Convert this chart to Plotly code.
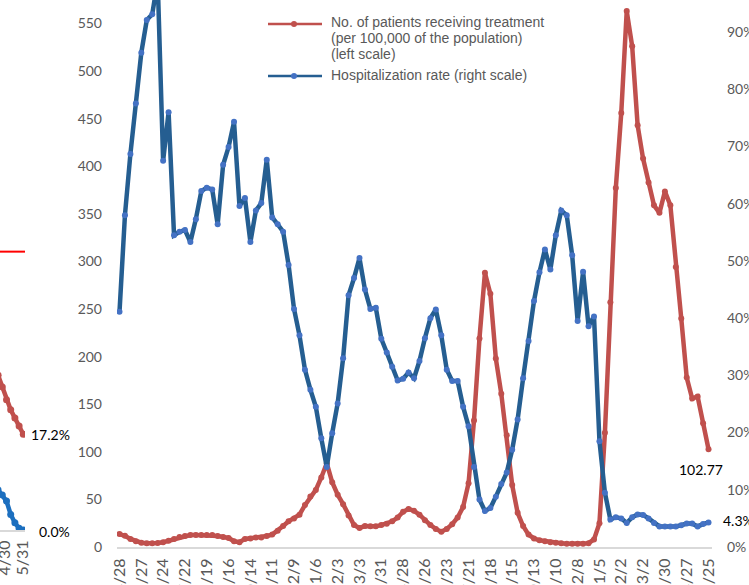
import plotly.graph_objects as go
import pandas as pd

W, H = 749, 585
PLOT_BOTTOM = 547  # pixel row of the main x axis (margin b = H - PLOT_BOTTOM)

# ---- main chart data (weekly, from 2020-04-29) ----
patients = [  # No. of patients receiving treatment per 100,000 (left scale)
    13.6, 11.8, 8.5, 6.0, 4.5, 4.0, 3.9, 4.2, 5.0, 6.5,
    8.5, 10.5, 11.5, 12.5, 12.6, 12.6, 12.6, 12.6, 11.5, 10.5,
    9.5, 6.0, 5.0, 8.5, 9.0, 10.0, 10.0, 11.5, 13.0, 17.0,
    22.0, 27.0, 30.0, 34.0, 44.0, 53.0, 60.0, 73.0, 88.0, 68.0,
    55.0, 45.0, 33.0, 23.0, 20.0, 22.0, 21.7, 21.7, 23.0, 24.5,
    27.0, 31.0, 37.0, 40.0, 38.0, 34.0, 28.0, 23.0, 19.0, 16.0,
    19.0, 24.0, 31.0, 42.0, 67.0, 133.0, 219.0, 288.0, 266.0, 198.0,
    161.0, 117.5, 65.0, 36.0, 22.0, 13.0, 9.0, 7.0, 6.0, 5.0,
    4.5, 4.0, 3.5, 3.5, 3.5, 3.5, 4.0, 8.0, 25.0, 120.0,
    257.0, 377.0, 456.0, 563.0, 526.0, 443.0, 408.0, 383.0, 359.0, 351.0,
    373.5, 359.0, 294.0, 240.0, 178.0, 156.0, 158.0, 130.0, 102.77,
]
hosp_rate = [  # Hospitalization rate, % (right scale)
    41.1, 58.0, 68.7, 77.5, 86.4, 92.1, 93.1, 99.0, 67.5, 76.0,
    54.5, 55.1, 55.4, 53.3, 57.3, 62.2, 62.8, 62.5, 56.4, 66.8,
    69.9, 74.3, 59.6, 61.0, 53.3, 58.8, 60.1, 67.7, 57.6, 56.4,
    55.1, 49.3, 41.6, 37.0, 31.0, 27.5, 24.5, 19.0, 14.0, 19.9,
    25.1, 33.0, 44.0, 47.0, 50.5, 45.0, 41.6, 41.8, 36.4, 34.0,
    31.5, 29.1, 29.4, 30.5, 29.5, 32.5, 36.5, 40.0, 41.5, 37.0,
    31.0, 29.0, 29.0, 24.5, 21.1, 14.0, 8.3, 6.3, 6.8, 8.8,
    11.0, 13.0, 17.0, 22.3, 29.5, 36.0, 43.0, 48.0, 52.0, 48.5,
    54.5, 58.8, 58.0, 51.0, 39.5, 48.1, 38.6, 40.3, 18.5, 9.5,
    4.8, 5.2, 5.0, 4.2, 5.2, 5.7, 5.6, 5.0, 4.2, 3.6,
    3.6, 3.6, 3.6, 3.8, 4.1, 4.1, 3.6, 4.0, 4.3,
]
tick_labels = ["4/28", "5/27", "6/24", "7/22", "8/19", "9/16", "10/14", "11/11",
               "12/9", "1/6", "2/3", "3/3", "3/31", "4/28", "5/26", "6/23",
               "7/21", "8/18", "9/15", "10/13", "11/10", "12/8", "1/5", "2/2",
               "3/2", "3/30", "4/27", "5/25"]
dates = pd.date_range("2020-04-29", periods=len(patients), freq="7D")

# ---- neighbouring chart fragment (cut off at the left edge) ----
frag_dates = pd.to_datetime(["2022-04-19", "2022-04-26", "2022-05-03", "2022-05-10",
                             "2022-05-17", "2022-05-24", "2022-05-31"])
frag_red = [27.8, 25.7, 23.4, 21.6, 20.1, 18.7, 17.2]
frag_blue = [7.2, 6.3, 5.2, 2.8, 1.3, 0.3, 0.0]
frag_threshold = 50
frag_ticks = pd.to_datetime(["2022-04-30", "2022-05-31"])
frag_tick_labels = ["4/30", "5/31"]

RED = "#C0504D"
BLUE_LINE = "#255E91"
BLUE_MARK = "#4472C4"
FRAG_BLUE = "#1C6FBF"
GREY_TXT = "#595959"
TICK_FONT = dict(family="Lato", size=14, color=GREY_TXT)
XTICK_FONT = dict(family="Lato", size=16, color=GREY_TXT)
LABEL_FONT = dict(family="Lato", size=14, color="black")


def px_x(px):
    return px / W


def px_y(py):
    return (PLOT_BOTTOM - py) / PLOT_BOTTOM


fig = go.Figure()

fig.add_trace(go.Scatter(
    x=dates, y=patients, mode="lines+markers", name="patients",
    line=dict(color=RED, width=4.5), marker=dict(color=RED, size=6),
    xaxis="x", yaxis="y", showlegend=False))
fig.add_trace(go.Scatter(
    x=dates, y=hosp_rate, mode="lines+markers", name="hospitalization",
    line=dict(color=BLUE_LINE, width=4.5), marker=dict(color=BLUE_MARK, size=6),
    xaxis="x", yaxis="y2", showlegend=False))

fig.add_trace(go.Scatter(
    x=frag_dates, y=frag_red, mode="lines+markers",
    line=dict(color=RED, width=4.5), marker=dict(color=RED, size=7),
    xaxis="x3", yaxis="y3", showlegend=False))
fig.add_trace(go.Scatter(
    x=frag_dates, y=frag_blue, mode="lines+markers",
    line=dict(color=FRAG_BLUE, width=4.5), marker=dict(color=FRAG_BLUE, size=7),
    xaxis="x3", yaxis="y3", showlegend=False))

# main axis ranges: first week sits at 119.5 px, 5.454 px per week
week_px = 5.454
x_start = dates[0] + pd.Timedelta(days=(117 - 119.5) / week_px * 7)
x_end = dates[0] + pd.Timedelta(days=(712 - 119.5) / week_px * 7)

# fragment axis: 5/31 at 23.3 px, 0.6 px per day, domain 0..25 px
f_start = frag_dates[-1] - pd.Timedelta(days=23.3 / 0.6)
f_end = frag_dates[-1] + pd.Timedelta(days=(25 - 23.3) / 0.6)

fig.update_layout(
    width=W, height=H,
    margin=dict(l=0, r=0, t=0, b=H - PLOT_BOTTOM, pad=0),
    plot_bgcolor="white", paper_bgcolor="white",
    xaxis=dict(
        domain=[px_x(117), px_x(712)], range=[x_start, x_end],
        tickvals=dates[::4], ticktext=tick_labels, tickangle=-90,
        tickfont=XTICK_FONT, showgrid=False, zeroline=False,
        showline=True, linecolor="#D9D9D9", linewidth=2, ticks="",
        ticklabelstandoff=3, ticklabeloverflow="allow", automargin=False),
    yaxis=dict(
        range=[0, 574.6], dtick=50, tickfont=TICK_FONT, showgrid=False,
        zeroline=False, showline=False, ticks="", ticklabelstandoff=14,
        automargin=False),
    yaxis2=dict(
        overlaying="y", side="right", anchor="x", range=[0, 95.6], dtick=10,
        ticksuffix="%", tickfont=TICK_FONT, showgrid=False, zeroline=False,
        showline=False, ticks="", ticklabelstandoff=14,
        ticklabeloverflow="allow", automargin=False),
    xaxis3=dict(
        domain=[0, px_x(25)], range=[f_start, f_end], anchor="y3",
        tickvals=frag_ticks, ticktext=frag_tick_labels, tickangle=-90,
        tickfont=XTICK_FONT, showgrid=False, zeroline=False,
        showline=True, linecolor="#D9D9D9", linewidth=2, ticks="",
        ticklabelstandoff=2, ticklabeloverflow="allow", automargin=False),
    yaxis3=dict(
        domain=[px_y(530), 1], range=[0, 95.2], anchor="x3", visible=False,
        automargin=False),
)

# threshold line of the fragment chart
fig.add_shape(type="line", xref="x3 domain", yref="y3", x0=0, x1=1,
              y0=frag_threshold, y1=frag_threshold,
              line=dict(color="#FF0000", width=2))

# hand-drawn legend
legend_rows = [(24, RED, RED), (76, BLUE_LINE, BLUE_MARK)]
for py, lc, mc in legend_rows:
    fig.add_shape(type="line", xref="paper", yref="paper",
                  x0=px_x(268), x1=px_x(322), y0=px_y(py), y1=px_y(py),
                  line=dict(color=lc, width=2.5))
    fig.add_shape(type="circle", xref="paper", yref="paper",
                  xsizemode="pixel", ysizemode="pixel",
                  xanchor=px_x(294), yanchor=px_y(py),
                  x0=-3, x1=3, y0=-3, y1=3, fillcolor=mc, line=dict(width=0))

legend_text = [
    (21.7, "No. of patients receiving treatment"),
    (38.3, "(per 100,000 of the population)"),
    (54.0, "(left scale)"),
    (75.0, "Hospitalization rate (right scale)"),
]
for py, txt in legend_text:
    fig.add_annotation(xref="paper", yref="paper", x=px_x(329), y=px_y(py),
                       text=txt, showarrow=False, xanchor="left", yanchor="middle",
                       font=dict(family="Liberation Sans", size=14, color=GREY_TXT))

# data labels
fig.add_annotation(x=dates[-1], y=patients[-1], xref="x", yref="y",
                   text=f"{patients[-1]:.2f}", showarrow=False,
                   xanchor="center", yanchor="middle", xshift=-8, yshift=-20,
                   font=LABEL_FONT)
fig.add_annotation(x=dates[-1], y=hosp_rate[-1], xref="x", yref="y2",
                   text=f"{hosp_rate[-1]:.1f}%", showarrow=False,
                   xanchor="left", yanchor="middle", xshift=12, yshift=2,
                   font=LABEL_FONT)
fig.add_annotation(x=frag_dates[-1], y=frag_red[-1], xref="x3", yref="y3",
                   text=f"{frag_red[-1]:.1f}%", showarrow=False,
                   xanchor="left", yanchor="middle", xshift=6,
                   font=LABEL_FONT)
fig.add_annotation(x=frag_dates[-1], y=frag_blue[-1], xref="x3", yref="y3",
                   text=f"{frag_blue[-1]:.1f}%", showarrow=False,
                   xanchor="left", yanchor="middle", xshift=14, yshift=-1,
                   font=LABEL_FONT)

# page without the default body margin so the figure sits at the window corner
fig.write_html("out.html", config={"displayModeBar": False},
               post_script="document.body.style.margin='0';")
